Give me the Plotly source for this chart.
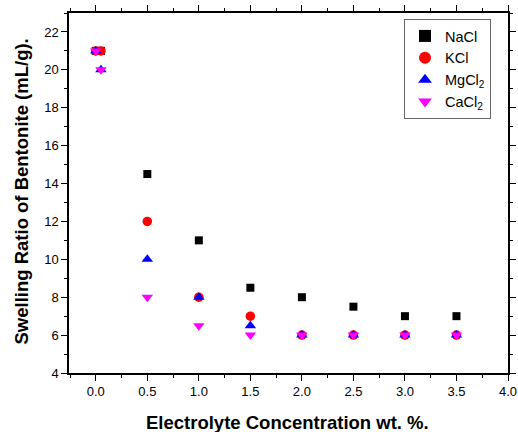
import plotly.graph_objects as go

x_vals = [0.0, 0.05, 0.5, 1.0, 1.5, 2.0, 2.5, 3.0, 3.5]
nacl = [21, 21, 14.5, 11, 8.5, 8, 7.5, 7, 7]
kcl = [21, 21, 12, 8, 7, 6, 6, 6, 6]
mgcl2 = [21, 20, 10, 8, 6.5, 6, 6, 6, 6]
cacl2 = [21, 20, 8, 6.5, 6, 6, 6, 6, 6]

series = [
    ("NaCl", nacl, "black", "square", 8),
    ("KCl", kcl, "red", "circle", 9.5),
    ("MgCl<sub>2</sub>", mgcl2, "blue", "triangle-up", 10),
    ("CaCl<sub>2</sub>", cacl2, "magenta", "triangle-down", 10),
]

fig = go.Figure()
for name, ys, col, sym, sz in series:
    fig.add_trace(go.Scatter(x=x_vals, y=ys, mode="markers", name=name,
                             marker=dict(color=col, symbol=sym, size=sz, line=dict(width=0))))

axis_common = dict(showgrid=False, zeroline=False, showline=True, linecolor="black",
                   linewidth=1.5, mirror="ticks", ticks="outside", ticklen=6, tickwidth=1.2,
                   tickcolor="black", automargin=False,
                   tickfont=dict(family="Liberation Sans, Arial", size=13, color="black"))

fig.update_layout(
    width=518, height=432,
    margin=dict(l=69, r=10, t=13, b=59),
    plot_bgcolor="white", paper_bgcolor="white",
    font=dict(family="Liberation Sans, Arial", color="black"),
    xaxis=dict(range=[-0.26, 4.0], dtick=0.5, tick0=0, tickformat=".1f",
               minor=dict(ticks="outside", dtick=0.25, tick0=0, ticklen=3, tickcolor="black"),
               **axis_common),
    yaxis=dict(range=[4, 23], dtick=2, tick0=0,
               minor=dict(ticks="outside", dtick=1, tick0=0, ticklen=3, tickcolor="black"),
               **axis_common),
    legend=dict(x=(491 - 69) / 439, y=(373 - 19) / 360, xanchor="right", yanchor="top",
                bordercolor="#666666", borderwidth=1, bgcolor="white",
                font=dict(size=14.5), itemsizing="constant", tracegroupgap=0),
    showlegend=True,
    annotations=[
        dict(text="<b>Electrolyte Concentration wt. %.</b>", xref="paper", yref="paper",
             x=(287 - 69) / 439, y=0, xanchor="center", yanchor="middle", yshift=-49,
             showarrow=False, font=dict(size=18.5, color="black")),
        dict(text="<b>Swelling Ratio of Bentonite (mL/g).</b>", xref="paper", yref="paper",
             x=0, y=(373 - 191.5) / 360, xanchor="center", yanchor="middle", xshift=-48,
             textangle=-90, showarrow=False, font=dict(size=18.5, color="black")),
    ],
)

fig.write_html("out.html", config={"displayModeBar": False},
               post_script="document.body.style.margin='0';document.body.style.overflow='hidden';")
